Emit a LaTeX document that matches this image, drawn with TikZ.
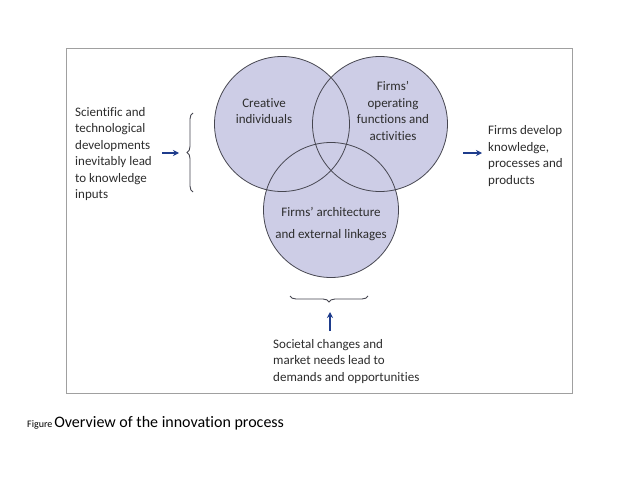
\documentclass[tikz,border=0pt]{standalone}
\usepackage{fontspec}
\setmainfont{Carlito}[Ligatures=NoCommon]
\usetikzlibrary{decorations.pathreplacing,arrows.meta}
\definecolor{circfill}{RGB}{205,205,230}
\definecolor{circline}{RGB}{70,70,80}
\definecolor{arrblue}{RGB}{30,60,140}
\definecolor{boxline}{RGB}{160,160,160}
\definecolor{txt}{RGB}{45,45,45}
\tikzset{
  venn/.style={circle, minimum size=135pt, inner sep=0pt, fill=circfill},
  ring/.style={draw=circline, line width=0.8pt},
  lbl/.style={text=txt, font=\fontsize{13}{16.5}\selectfont, inner sep=0pt},
  arr/.style={-{Stealth[length=6pt,width=6pt]}, arrblue, line width=1.4pt},
  brc/.style={decorate, decoration={brace, amplitude=6pt}, draw=circline, line width=0.9pt}
}
\begin{document}
\begin{tikzpicture}[x=1pt,y=-1pt]
\useasboundingbox (0,0) rectangle (638,479);
\fill[white] (0,0) rectangle (638,479);
\draw[boxline, line width=0.8pt] (66,48) rectangle (572,393);
\node[venn] (ca) at (282,124) {};
\node[venn] (cb) at (380,124) {};
\node[venn] (cc) at (331,210) {};
\draw[ring] (ca) circle (67.5) (cb) circle (67.5) (cc) circle (67.5);
\node[lbl, align=center] (ta) at (264,111) {Creative\\individuals};
\node[lbl, align=center] (tb) at (393,111) {Firms’\\operating\\functions and\\activities};
\node[lbl, align=center, font=\fontsize{13}{22}\selectfont] (tc) at (331,224) {Firms’ architecture\\and external linkages};
\node[lbl, align=left, anchor=west] (tl) at (75,154) {Scientific and\\technological\\developments\\inevitably lead\\to knowledge\\inputs};
\node[lbl, align=left, anchor=west] (tr) at (488,156) {Firms develop\\knowledge,\\processes and\\products};
\node[lbl, align=left, anchor=north west] (tbm) at (273,339) {Societal changes and\\market needs lead to\\demands and opportunities};
\coordinate (la1) at (162,153);
\coordinate (la2) at (179,153);
\coordinate (ra1) at (463,153);
\coordinate (ra2) at (482,153);
\coordinate (ba1) at (330,331);
\coordinate (ba2) at (330,312);
\coordinate (lbt) at (193,113);
\coordinate (lbb) at (193,192);
\coordinate (bbl) at (290,296);
\coordinate (bbr) at (368,296);
\draw[arr] (la1) -- (la2);
\draw[arr] (ra1) -- (ra2);
\draw[arr] (ba1) -- (ba2);
\draw[brc] (lbb) -- (lbt);
\draw[brc] (bbr) -- (bbl);
\node[anchor=base west, inner sep=0pt, font=\fontsize{10}{11}\selectfont] (fig) at (27,427) {Figure};
\node[anchor=base west, inner sep=0pt, font=\fontsize{16}{18}\selectfont] (cap) at (fig.base east) {\hspace{1.5pt}Overview of the innovation process};
\end{tikzpicture}
\end{document}
